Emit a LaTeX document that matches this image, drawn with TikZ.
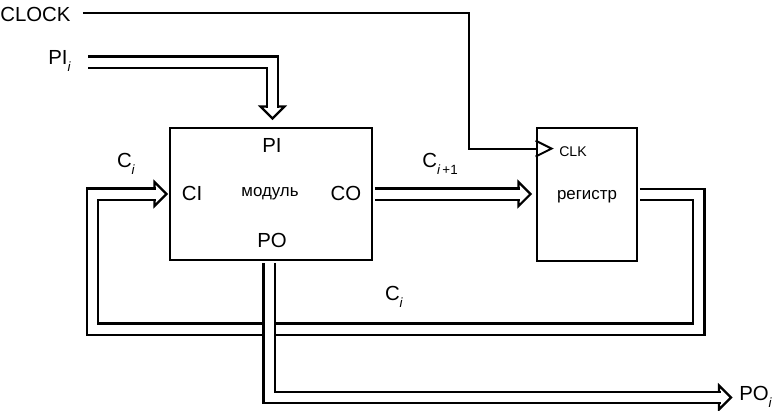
\documentclass[tikz,border=0pt]{standalone}
\usepackage{fontspec}
\setmainfont{Liberation Sans}
\usetikzlibrary{calc}

% lowered small index after a letter
\newcommand{\indx}[1]{\raisebox{-0.6ex}{\fontsize{9.5}{10}\selectfont #1}}

\tikzset{
  blok/.style={draw, line width=2pt, inner sep=0pt},
  shina/.style={draw, line width=1.6pt, double, double distance=6.4pt},
  glava/.style={draw, line width=1.6pt, fill=white, line join=miter},
  signal/.style={draw, line width=1.4pt},
  metka/.style={font=\fontsize{14.5}{16}\selectfont, inner sep=0pt},
  malo/.style={font=\fontsize{12}{14}\selectfont, inner sep=0pt},
}

\begin{document}
\begin{tikzpicture}[x=0.025cm, y=-0.025cm]
  \useasboundingbox (0,0) rectangle (783,410);

  % the two blocks
  \node[blok, minimum width=5.05cm, minimum height=3.3cm] (modul) at (271,194) {};
  \node[blok, minimum width=2.5cm, minimum height=3.325cm] (reg) at (587,194.5) {};

  \node[metka] (pi) at (272,145) {PI};
  \node[metka] (ci) at (192,193) {CI};
  \node[malo] (mtxt) at (270,194) {модуль};
  \node[metka] (co) at (346,193) {CO};
  \node[metka] (po) at (272,240) {PO};
  \node[font=\fontsize{10}{11}\selectfont, inner sep=0pt, anchor=west] (clk) at (559,152) {CLK};
  \node[malo] (rtxt) at (587,197) {регистр};

  % outside labels
  \node[metka, anchor=west] (clock) at (0,14) {CLOCK};
  \node[metka, anchor=west] (pilbl) at (48,61) {PI\indx{\textit{i}}};
  \node[metka] (cilbl) at (126,164) {C\indx{\textit{i}}};
  \node[metka] (cnlbl) at (440,164) {C\indx{\textit{i}\,+1}};
  \node[metka] (cilbl2) at (394,297) {C\indx{\textit{i}}};
  \node[metka, anchor=west] (polbl) at (739,397) {PO\indx{\textit{i}}};

  % tips of the bus arrows
  \coordinate (pihead) at ($(modul.north)+(1.5,-8)$);
  \coordinate (cihead) at ($(modul.west)+(-2,0)$);
  \coordinate (cnhead) at ($(modul.east -| reg.west)+(-5,0)$);
  \coordinate (pohead) at (731,397.5);
  \coordinate (clkin) at ($(reg.north west)+(0,22)$);

  % clock line
  \draw[signal] ($(clock.east)+(12,-1)$) -| ($(clkin)+(-67,0)$) -- (clkin);
  \draw[signal] ($(clkin)+(0,-8)$) -- ++(16,8) -- ++(-16,8);

  % arrow heads first, the buses run into them
  \draw[glava] (pihead) -- ++(-12,-12) -- ++(24,0) -- cycle;
  \foreach \t in {cihead, cnhead, pohead}
    \draw[glava] (\t) -- ++(-12,-12) -- ++(0,24) -- cycle;

  \draw[shina] (88,62) -| ($(pihead)+(0,-10.5)$);
  \draw[shina] ($(modul.east)+(1.5,0)$) -- ($(cnhead)+(-10.5,0)$);
  \draw[shina] ($(reg.east)+(1.5,0)$) -- ++(59,0) |- (92.5,329) |- ($(cihead)+(-10.5,0)$);
  \draw[shina] ($(modul.south)+(-2,1.5)$) |- ($(pohead)+(-10.5,0)$);
\end{tikzpicture}
\end{document}
